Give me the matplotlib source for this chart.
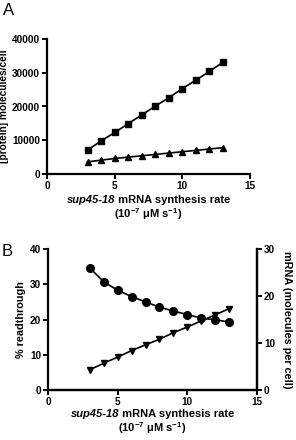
import numpy as np
import matplotlib
matplotlib.use('Agg')
import matplotlib.pyplot as plt

plt.rcParams['font.family'] = ['Liberation Sans', 'DejaVu Sans']
plt.rcParams['font.weight'] = 'bold'
plt.rcParams['mathtext.fontset'] = 'custom'
plt.rcParams['mathtext.rm'] = 'Liberation Sans:bold'
plt.rcParams['mathtext.it'] = 'Liberation Sans:bold:italic'
plt.rcParams['mathtext.bf'] = 'Liberation Sans:bold'

# data
rate = [3, 4, 5, 6, 7, 8, 9, 10, 11, 12, 13]
protein_sq = [7100, 9800, 12300, 14900, 17500, 20100, 22600, 25300, 27800, 30400, 33100]
protein_tri = [3600, 4100, 4600, 5000, 5400, 5800, 6200, 6600, 7000, 7400, 7800]
readthrough = [34.6, 30.7, 28.3, 26.5, 25.0, 23.5, 22.4, 21.4, 20.4, 19.9, 19.3]
mrna = [4.3, 5.7, 7.0, 8.4, 9.6, 10.8, 12.2, 13.4, 14.7, 16.0, 17.3]

W, H = 296, 440
fig = plt.figure(figsize=(W / 100, H / 100), dpi=100)
renderer = fig.canvas.get_renderer()

def box(x0, y0, x1, y1):
    return [x0 / W, 1 - y1 / H, (x1 - x0) / W, (y1 - y0) / H]

FS = 8

def xlabel(ax, y1, y2):
    # two-line label, first line has an italic gene name
    xc = ax.get_position().x0 + ax.get_position().width / 2
    t1 = fig.text(0, 1 - y1 / H, 'sup45-18', fontsize=FS, fontweight='bold',
                  style='italic', va='center', ha='left')
    t2 = fig.text(0, 1 - y1 / H, ' mRNA synthesis rate', fontsize=FS,
                  fontweight='bold', va='center', ha='left')
    w1 = t1.get_window_extent(renderer).width / W
    w2 = t2.get_window_extent(renderer).width / W
    x0 = xc - (w1 + w2) / 2
    t1.set_x(x0)
    t2.set_x(x0 + w1)
    fig.text(xc, 1 - y2 / H, '(10$^{-7}$ \u03bcM s$^{-1}$)', fontsize=FS,
             fontweight='bold', va='center', ha='center')

def style(ax):
    for s in ax.spines.values():
        s.set_linewidth(1.6)
    ax.tick_params(direction='out', length=3.5, width=1.4, labelsize=7.2, pad=1.5)
    for t in ax.get_xticklabels() + ax.get_yticklabels():
        t.set_fontweight('bold')

# panel A
ax1 = fig.add_axes(box(47, 39, 250, 174))
ax1.plot(rate, protein_sq, color='black', marker='s', markersize=5, lw=1.2)
ax1.plot(rate, protein_tri, color='black', marker='^', markersize=5, lw=1.2)
ax1.set_xlim(0, 15)
ax1.set_ylim(0, 40000)
ax1.set_xticks([0, 5, 10, 15])
ax1.set_yticks([0, 10000, 20000, 30000, 40000])
ax1.spines['top'].set_visible(False)
ax1.spines['right'].set_visible(False)
style(ax1)
ax1.set_ylabel('[protein] molecules/cell', fontsize=7.3, fontweight='bold', labelpad=2)
xlabel(ax1, 200, 214)
fig.text(3 / W, 1 - 3 / H, 'A', fontsize=12, fontweight='normal', va='top', ha='left')

# panel B
ax2 = fig.add_axes(box(48, 249, 257, 390))
ax2.plot(rate, readthrough, color='black', marker='o', markersize=5.5, lw=1.2)
ax2.set_xlim(0, 15)
ax2.set_ylim(0, 40)
ax2.set_xticks([0, 5, 10, 15])
ax2.set_yticks([0, 10, 20, 30, 40])
ax2.spines['top'].set_visible(False)
style(ax2)
ax2.set_ylabel('% readthrough', fontsize=7.8, fontweight='bold', labelpad=3)
xlabel(ax2, 414, 428)

ax3 = ax2.twinx()
ax3.plot(rate, mrna, color='black', marker='v', markersize=5, lw=1.2)
ax3.set_ylim(0, 30)
ax3.set_yticks([0, 10, 20, 30])
ax3.spines['top'].set_visible(False)
ax3.spines['left'].set_visible(False)
style(ax3)
ax3.set_ylabel('mRNA (molecules per cell)', fontsize=7.8, fontweight='bold',
               rotation=270, labelpad=12)
fig.text(2 / W, 1 - 244 / H, 'B', fontsize=12, fontweight='normal', va='top', ha='left')

fig.savefig('out.png', dpi=100)
